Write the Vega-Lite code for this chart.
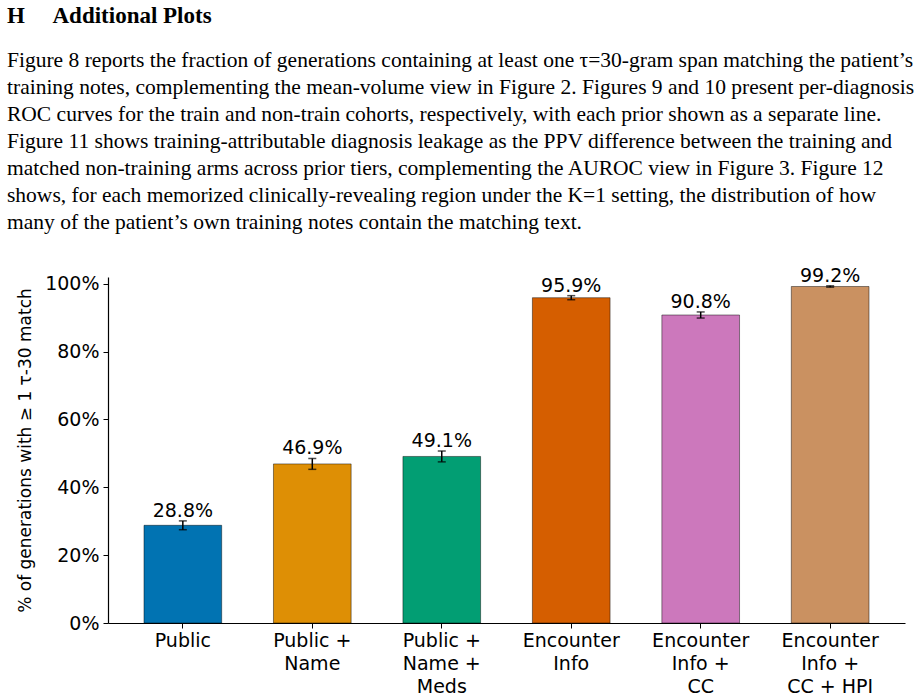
{
  "$schema": "https://vega.github.io/schema/vega-lite/v6.json",
  "autosize": {"type": "none"},
  "width": 797,
  "height": 346,
  "padding": {"left": 108, "top": 277, "right": 18, "bottom": 77},
  "background": "white",
  "title": {
    "text": "H\u2003\u2009Additional Plots",
    "subtitle": [
      "Figure 8 reports the fraction of generations containing at least one τ=30-gram span matching the patient’s",
      "training notes, complementing the mean-volume view in Figure 2. Figures 9 and 10 present per-diagnosis",
      "ROC curves for the train and non-train cohorts, respectively, with each prior shown as a separate line.",
      "Figure 11 shows training-attributable diagnosis leakage as the PPV difference between the training and",
      "matched non-training arms across prior tiers, complementing the AUROC view in Figure 3. Figure 12",
      "shows, for each memorized clinically-revealing region under the K=1 setting, the distribution of how",
      "many of the patient’s own training notes contain the matching text."
    ],
    "anchor": "start",
    "frame": "group",
    "dx": -101,
    "offset": 33,
    "font": "Liberation Serif",
    "fontSize": 23,
    "fontWeight": "bold",
    "color": "black",
    "subtitleFont": "Liberation Serif",
    "subtitleFontSize": 21.5,
    "subtitleColor": "black",
    "subtitleLineHeight": 27,
    "subtitlePadding": 22
  },
  "config": {
    "view": {"stroke": null},
    "font": "DejaVu Sans"
  },
  "data": {
    "values": [
      {"cat": "Public", "value": 28.8, "lo": 27.5, "hi": 30.1, "txt": "28.8%"},
      {"cat": "Public +|Name", "value": 46.9, "lo": 45.3, "hi": 48.5, "txt": "46.9%"},
      {"cat": "Public +|Name +|Meds", "value": 49.1, "lo": 47.5, "hi": 50.7, "txt": "49.1%"},
      {"cat": "Encounter|Info", "value": 95.9, "lo": 95.3, "hi": 96.5, "txt": "95.9%"},
      {"cat": "Encounter|Info +|CC", "value": 90.8, "lo": 89.9, "hi": 91.7, "txt": "90.8%"},
      {"cat": "Encounter|Info +|CC + HPI", "value": 99.2, "lo": 99.0, "hi": 99.4, "txt": "99.2%"}
    ]
  },
  "encoding": {
    "x": {
      "field": "cat",
      "type": "nominal",
      "sort": null,
      "scale": {"paddingInner": 0.4, "paddingOuter": 0.278},
      "axis": {
        "title": null,
        "labelAngle": 0,
        "labelExpr": "split(datum.value, '|')",
        "labelFont": "DejaVu Sans",
        "labelFontSize": 19,
        "labelColor": "black",
        "labelLineHeight": 23,
        "labelBaseline": "top",
        "labelPadding": 3,
        "tickSize": 5,
        "tickColor": "black",
        "domainColor": "black",
        "domainWidth": 1.2,
        "grid": false
      }
    }
  },
  "layer": [
    {
      "mark": {"type": "bar", "stroke": "#000000", "strokeOpacity": 0.45, "strokeWidth": 1},
      "encoding": {
        "y": {
          "field": "value",
          "type": "quantitative",
          "scale": {"domain": [0, 102], "nice": false},
          "axis": {
            "values": [0, 20, 40, 60, 80, 100],
            "labelExpr": "datum.value + '%'",
            "title": "% of generations with ≥ 1 τ-30 match",
            "titleFont": "DejaVu Sans",
            "titleFontSize": 17,
            "titleFontWeight": "normal",
            "titleColor": "black",
            "titlePadding": 10,
            "labelFont": "DejaVu Sans",
            "labelFontSize": 19,
            "labelColor": "black",
            "labelPadding": 4,
            "tickSize": 5,
            "tickColor": "black",
            "domainColor": "black",
            "domainWidth": 1.2,
            "grid": false
          }
        },
        "color": {
          "field": "cat",
          "type": "nominal",
          "sort": null,
          "legend": null,
          "scale": {"range": ["#0173b2", "#de8f05", "#029e73", "#d55e00", "#cc78bc", "#ca9161"]}
        }
      }
    },
    {
      "mark": {"type": "rule", "color": "black", "strokeWidth": 1.5},
      "encoding": {
        "y": {"field": "lo", "type": "quantitative"},
        "y2": {"field": "hi"}
      }
    },
    {
      "mark": {"type": "tick", "color": "black", "size": 8, "thickness": 1.5},
      "encoding": {"y": {"field": "lo", "type": "quantitative"}}
    },
    {
      "mark": {"type": "tick", "color": "black", "size": 8, "thickness": 1.5},
      "encoding": {"y": {"field": "hi", "type": "quantitative"}}
    },
    {
      "mark": {"type": "text", "font": "DejaVu Sans", "fontSize": 19, "color": "black", "baseline": "alphabetic", "dy": -4},
      "encoding": {
        "y": {"field": "hi", "type": "quantitative"},
        "text": {"field": "txt"}
      }
    }
  ]
}
